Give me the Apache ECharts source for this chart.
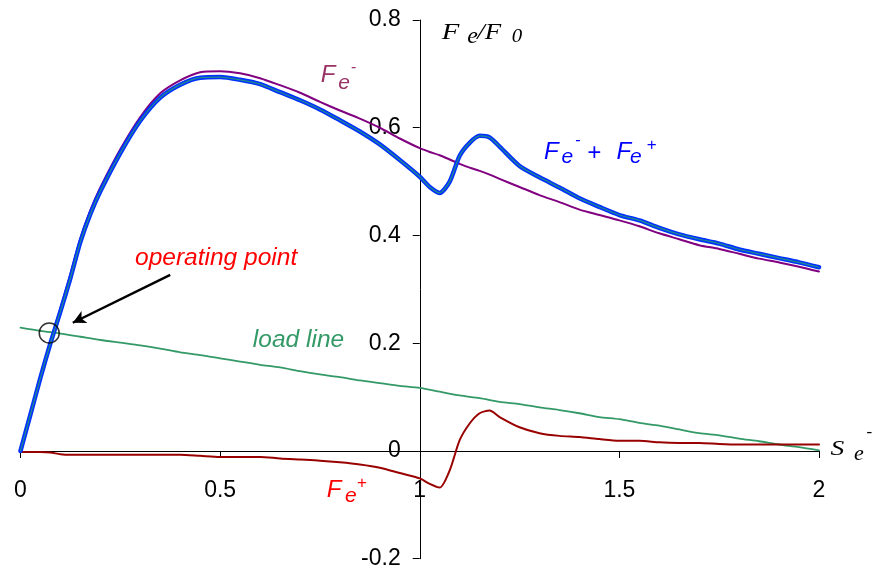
<!DOCTYPE html>
<html>
<head>
<meta charset="utf-8">
<script src="https://cdn.jsdelivr.net/npm/echarts@6/dist/echarts.min.js"></script>
<style>
  html, body { margin: 0; padding: 0; background: #fff; }
  #chart { width: 878px; height: 574px; }
</style>
</head>
<body>
<div id="chart"></div>
<script>
// Normalised stroke S_e^- (shared abscissa for the force curves)
const se = [0, 0.025, 0.05, 0.075, 0.1, 0.125, 0.15, 0.175, 0.2, 0.25, 0.3, 0.35, 0.4, 0.45,
  0.5, 0.55, 0.6, 0.65, 0.7, 0.75, 0.8, 0.85, 0.9, 0.95, 1.0, 1.025, 1.05, 1.075, 1.1, 1.125,
  1.15, 1.175, 1.2, 1.25, 1.3, 1.35, 1.4, 1.45, 1.5, 1.55, 1.6, 1.65, 1.7, 1.75, 1.8, 1.85,
  1.9, 1.95, 2.0];

// F_e^- / F_0
const feMinus = [0, 0.07, 0.138, 0.203, 0.265, 0.328, 0.395, 0.447, 0.489, 0.560, 0.620, 0.664,
  0.688, 0.703, 0.705, 0.701, 0.692, 0.679, 0.665, 0.648, 0.632, 0.617, 0.600, 0.580, 0.562,
  0.555, 0.549, 0.541, 0.533, 0.526, 0.520, 0.513, 0.505, 0.490, 0.475, 0.462, 0.448, 0.438,
  0.428, 0.417, 0.404, 0.393, 0.382, 0.375, 0.366, 0.357, 0.350, 0.342, 0.333];

// F_e^+ / F_0
const fePlus = [-0.002, -0.002, -0.002, -0.003, -0.006, -0.007, -0.007, -0.007, -0.007, -0.007,
  -0.007, -0.007, -0.007, -0.009, -0.011, -0.011, -0.011, -0.014, -0.016, -0.018, -0.021, -0.025,
  -0.031, -0.041, -0.051, -0.061, -0.068, -0.036, 0.020, 0.051, 0.070, 0.075, 0.063, 0.044,
  0.033, 0.028, 0.026, 0.022, 0.019, 0.019, 0.016, 0.015, 0.015, 0.013, 0.012, 0.012, 0.012,
  0.012, 0.012];

// (F_e^- + F_e^+) / F_0
const feSum = [0, 0.068, 0.136, 0.200, 0.259, 0.321, 0.388, 0.440, 0.482, 0.553, 0.613, 0.656,
  0.680, 0.693, 0.694, 0.689, 0.681, 0.666, 0.651, 0.634, 0.614, 0.593, 0.569, 0.540, 0.509,
  0.490, 0.479, 0.500, 0.548, 0.572, 0.585, 0.582, 0.565, 0.529, 0.508, 0.489, 0.469, 0.453,
  0.438, 0.428, 0.414, 0.402, 0.393, 0.385, 0.374, 0.366, 0.358, 0.350, 0.341];

// Load line
const seLoad = [0, 0.05, 0.1, 0.15, 0.2, 0.25, 0.3, 0.35, 0.4, 0.45, 0.5, 0.55, 0.6, 0.65, 0.7,
  0.75, 0.8, 0.85, 0.9, 0.95, 1.0, 1.05, 1.1, 1.15, 1.2, 1.25, 1.3, 1.35, 1.4, 1.45, 1.5, 1.55,
  1.6, 1.65, 1.7, 1.75, 1.8, 1.85, 1.9, 1.95, 2.0];
const loadLine = [0.229, 0.223, 0.218, 0.212, 0.206, 0.201, 0.196, 0.190, 0.183, 0.178, 0.172,
  0.166, 0.160, 0.155, 0.148, 0.142, 0.137, 0.131, 0.126, 0.121, 0.117, 0.110, 0.103, 0.098,
  0.091, 0.087, 0.081, 0.076, 0.070, 0.063, 0.059, 0.052, 0.047, 0.040, 0.033, 0.029, 0.023,
  0.018, 0.012, 0.007, 0.001];

// Operating point and the arrow pointing at it
const operatingPoint = [0.072, 0.219];
const arrowFrom = [0.375, 0.327];
const arrowTo = [0.131, 0.238];

// Axis ticks
const xTicks = { min: 0, max: 2, step: 0.5 };
const yTicks = { min: -0.2, max: 0.8, step: 0.2 };

const pairs = (xs, ys) => xs.map((x, i) => [x, ys[i]]);
const SANS = '"Liberation Sans", Arial, sans-serif';
const SERIF = '"Liberation Serif", "Times New Roman", serif';

// Plot rectangle
const GRID = { left: 20.5, right: 59, top: 20, bottom: 15.3 };
const PLOT_W = 878 - GRID.left - GRID.right;
const PLOT_H = 574 - GRID.top - GRID.bottom;

// The axes cross at S_e = 1 and F_e/F_0 = 0
const yAxisAt = 1;
const xAxisAt = 0;
const yAxisOffset = -PLOT_W * (yAxisAt - xTicks.min) / (xTicks.max - xTicks.min);
const xAxisOffset = -PLOT_H * (xAxisAt - yTicks.min) / (yTicks.max - yTicks.min);

const chart = echarts.init(document.getElementById('chart'), null, { renderer: 'canvas' });

const lineSeries = (name, data, color, width, z) => ({
  name, type: 'line', data, showSymbol: false, symbol: 'none', smooth: 0.25, z,
  lineStyle: { color, width, cap: 'round', join: 'round' },
  emphasis: { disabled: true }, silent: true
});

chart.setOption({
  animation: false,
  backgroundColor: '#ffffff',
  grid: Object.assign({ containLabel: false, outerBoundsMode: 'none' }, GRID),
  xAxis: {
    type: 'value', min: xTicks.min, max: xTicks.max, interval: xTicks.step,
    position: 'bottom', offset: xAxisOffset,
    axisLine: { show: true, onZero: false, lineStyle: { color: '#000', width: 1 } },
    axisTick: { show: true, inside: false, length: 7, lineStyle: { color: '#000', width: 1 } },
    axisLabel: {
      show: true, color: '#000', fontFamily: SANS, fontSize: 23, margin: 28,
      showMinLabel: true, showMaxLabel: true, hideOverlap: false,
      formatter: v => String(Math.round(v * 10) / 10)
    },
    splitLine: { show: false }
  },
  yAxis: {
    type: 'value', min: yTicks.min, max: yTicks.max, interval: yTicks.step,
    position: 'left', offset: yAxisOffset,
    axisLine: { show: true, onZero: false, lineStyle: { color: '#000', width: 1 } },
    axisTick: { show: true, inside: false, length: 7, lineStyle: { color: '#000', width: 1 } },
    axisLabel: {
      color: '#000', fontFamily: SANS, fontSize: 23, margin: 19,
      formatter: v => String(Math.round(v * 10) / 10)
    },
    splitLine: { show: false }
  },
  series: [
    lineSeries('load line', pairs(seLoad, loadLine), '#339966', 1.8, 2),
    lineSeries('Fe+', pairs(se, fePlus), '#990000', 2, 3),
    lineSeries('Fe-', pairs(se, feMinus), '#800080', 2, 4),
    lineSeries('Fe- + Fe+', pairs(se, feSum), '#0033ff', 4.5, 5),
    lineSeries('Fe- + Fe+ core', pairs(se, feSum), '#208a8a', 1.2, 6),
    {
      name: 'operating point', type: 'scatter', z: 7, silent: true,
      data: [operatingPoint], symbol: 'circle', symbolSize: 20,
      itemStyle: { color: 'rgba(0,0,0,0)', borderColor: '#000', borderWidth: 1.5 },
      emphasis: { disabled: true },
      markLine: {
        silent: true, animation: false,
        symbol: ['none', 'arrow'], symbolSize: [10, 13],
        label: { show: false },
        lineStyle: { color: '#000', width: 2.5, type: 'solid' },
        emphasis: { disabled: true },
        data: [[{ coord: arrowFrom }, { coord: arrowTo }]]
      }
    }
  ]
});

// Text annotations: each is a run of pieces (main letters, sub- and superscripts)
// positioned relative to an anchor given in data coordinates.
function annotate(anchor, pieces, color, family, stretch) {
  const [px, py] = chart.convertToPixel({ gridIndex: 0 }, anchor);
  return pieces.map(p => ({
    type: 'text', silent: true, z: 100,
    x: px + p.dx, y: py + p.dy,
    scaleX: p.stretch || stretch || 1,
    style: {
      text: p.t, fill: color, fontFamily: family, fontStyle: 'italic', fontSize: p.size,
      align: 'left', verticalAlign: 'middle', textAlign: 'left', textVerticalAlign: 'middle'
    }
  }));
}

const graphics = [].concat(
  // axis title F_e / F_0
  annotate([1.055, 0.776], [
    { t: 'F', dx: 0, dy: 0, size: 24, stretch: 1.2 },
    { t: 'e', dx: 25.6, dy: 3.8, size: 24, stretch: 1 },
    { t: '/F', dx: 35.5, dy: 0, size: 24, stretch: 1.12 },
    { t: '0', dx: 70, dy: 4.5, size: 19, stretch: 1.1 }
  ], '#000', SERIF),
  // axis title S_e^-
  annotate([2.029, 0.0024], [
    { t: 'S', dx: 0, dy: 0, size: 22, stretch: 1.25 },
    { t: 'e', dx: 23.3, dy: 4.5, size: 22, stretch: 1 },
    { t: '-', dx: 36, dy: -17, size: 17, stretch: 1 }
  ], '#000', SERIF),
  // F_e^-
  annotate([0.752, 0.697], [
    { t: 'F', dx: 0, dy: 0, size: 24 },
    { t: 'e', dx: 17.6, dy: 7.3, size: 21 },
    { t: '-', dx: 30, dy: -8, size: 16 }
  ], '#993366', SANS),
  // F_e^- + F_e^+
  annotate([1.311, 0.555], [
    { t: 'F', dx: 0, dy: 0, size: 24 },
    { t: 'e', dx: 17.7, dy: 4.7, size: 21 },
    { t: '-', dx: 31, dy: -11.4, size: 16 },
    { t: '+', dx: 43, dy: 1.7, size: 24 },
    { t: 'F', dx: 72.7, dy: 0, size: 24 },
    { t: 'e', dx: 86, dy: 4.7, size: 21 },
    { t: '+', dx: 102.7, dy: -6.6, size: 17 }
  ], '#0000ff', SANS),
  // F_e^+
  annotate([0.767, -0.073], [
    { t: 'F', dx: 0, dy: 0, size: 24 },
    { t: 'e', dx: 18.3, dy: 5.6, size: 21 },
    { t: '+', dx: 30, dy: -7.5, size: 17 }
  ], '#ff0000', SANS),
  // operating point
  annotate([0.287, 0.357], [{ t: 'operating point', dx: 0, dy: 0, size: 24.5 }], '#ff0000', SANS),
  // load line
  annotate([0.582, 0.205], [{ t: 'load line', dx: 0, dy: 0, size: 24.5 }], '#339966', SANS)
);

chart.setOption({ graphic: graphics });
</script>
</body>
</html>
